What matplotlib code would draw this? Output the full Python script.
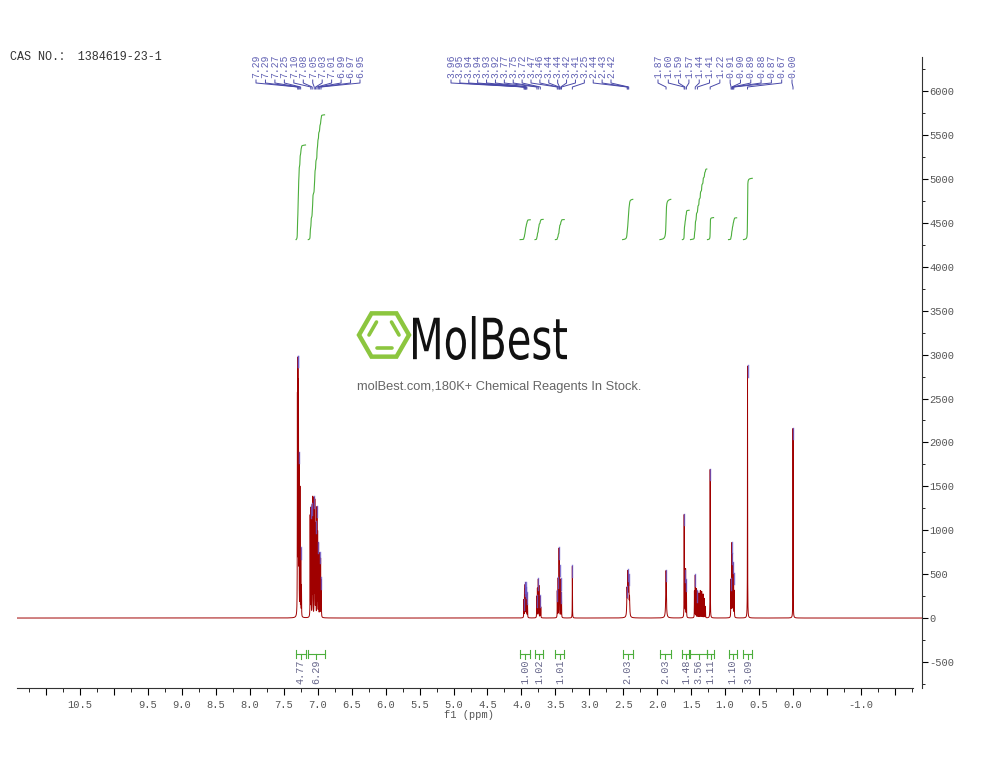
import numpy as np
import matplotlib
matplotlib.use("Agg")
import matplotlib.pyplot as plt
from matplotlib import transforms
from matplotlib.lines import Line2D
from matplotlib.patches import PathPatch, RegularPolygon
from matplotlib.textpath import TextPath
from matplotlib.font_manager import FontProperties
from matplotlib.ticker import MultipleLocator, FuncFormatter

plt.rcParams["font.family"] = ["Liberation Mono", "Noto Sans CJK SC"]
plt.rcParams["axes.unicode_minus"] = False

# 1H lines: position (ppm), height, line width (ppm)
LINE_PPM = [7.300, 7.292, 7.284, 7.276, 7.262, 7.250, 7.240,
            7.112, 7.100, 7.082, 7.073, 7.052, 7.043, 7.030, 7.012, 7.002,
            6.988, 6.972, 6.958, 6.948,
            3.965, 3.955, 3.947, 3.940, 3.930, 3.920, 3.910,
            3.775, 3.765, 3.752, 3.742, 3.725, 3.715,
            3.472, 3.460, 3.446, 3.438, 3.422, 3.410,
            3.250,
            2.445, 2.432, 2.420, 2.408,
            1.870,
            1.603, 1.592, 1.582, 1.570,
            1.452, 1.440, 1.425, 1.405, 1.385, 1.365, 1.345, 1.325, 1.305, 1.290,
            1.220,
            0.915, 0.905, 0.895, 0.885, 0.875, 0.865,
            0.670, 0.000]
LINE_H = [2450, 2790, 2550, 1750, 1450, 750, 350,
          1150, 1230, 1240, 1340, 1320, 1300, 1050, 1230, 950,
          830, 720, 660, 420,
          200, 310, 350, 375, 330, 270, 150,
          240, 330, 430, 360, 240, 120,
          300, 440, 770, 560, 430, 280,
          590,
          300, 470, 420, 200,
          540,
          1170, 500, 540, 420,
          300, 480, 330, 300, 280, 310, 300, 270, 220, 130,
          1700,
          420, 830, 700, 600, 480, 300,
          2870, 2160]
LINE_W = [0.003] * 40 + [0.008] * 4 + [0.010] + [0.003] * 23

# peak picks (shown as labels on top)
PICKS_A = [7.294, 7.288, 7.272, 7.252, 7.102, 7.082, 7.052, 7.032, 7.012,
           6.992, 6.972, 6.952]
PICKS_B = [3.962, 3.952, 3.944, 3.938, 3.930, 3.920, 3.772, 3.752, 3.722,
           3.472, 3.460, 3.444, 3.438, 3.422, 3.410, 3.250, 2.442, 2.432, 2.420]
PICKS_C = [1.870, 1.603, 1.592, 1.570, 1.440, 1.408, 1.220, 0.912, 0.902,
           0.892, 0.882, 0.872, 0.670, 0.000]

# integrals: region (ppm) and value
INT_HI = [7.32, 7.14, 4.02, 3.80, 3.50, 2.51, 1.96, 1.63, 1.51, 1.26, 0.95, 0.73]
INT_LO = [7.18, 6.90, 3.87, 3.68, 3.37, 2.36, 1.80, 1.53, 1.27, 1.17, 0.83, 0.60]
INT_VAL = [4.77, 6.29, 1.00, 1.02, 1.01, 2.03, 2.03, 1.48, 3.56, 1.11, 1.10, 3.09]

HIDDEN_TICKS = [11.0, 10.0, -0.5, -1.5]

W, H = 1000, 773
RED = "#a00000"
BLUE = "#4848a8"
GREEN = "#4cae3c"


def main():
    fig = plt.figure(figsize=(W / 100, H / 100), dpi=100)
    ax = fig.add_axes([17 / W, 1 - 688 / H, (922 - 17) / W, (688 - 57) / H])
    ax.patch.set_alpha(0)
    ax.set_xlim(11.43, -1.90)
    ax.set_ylim(-797, 6390)

    # figure pixel coords, y measured from the top
    fig_px = transforms.Affine2D().scale(1 / W, -1 / H).translate(0, 1) + fig.transFigure
    x_px = transforms.blended_transform_factory(ax.transData, fig_px)

    # spectrum
    ppm = np.linspace(11.43, -1.90, 60001)
    spec = np.zeros_like(ppm)
    for p, h, w in zip(LINE_PPM, LINE_H, LINE_W):
        spec += h / (1 + ((ppm - p) / (w / 2)) ** 2)
    ax.plot(ppm, spec, color=RED, lw=0.7, zorder=3)

    # integral curves
    for hi, lo, val in zip(INT_HI, INT_LO, INT_VAL):
        m = (ppm <= hi) & (ppm >= lo)
        cum = np.cumsum(spec[m])
        cum = cum / cum[-1] * val * 226 + 4310
        ax.plot(ppm[m], cum, color=GREEN, lw=0.8, zorder=2)

    # integral brackets + values
    for hi, lo, val in zip(INT_HI, INT_LO, INT_VAL):
        c = (hi + lo) / 2
        kw = dict(color=GREEN, lw=0.8, transform=x_px, clip_on=False)
        fig.add_artist(Line2D([hi, lo], [654, 654], **kw))
        fig.add_artist(Line2D([hi, hi], [650, 658], **kw))
        fig.add_artist(Line2D([lo, lo], [650, 658], **kw))
        fig.add_artist(Line2D([c, c], [654, 659], **kw))
        fig.text(c, 660, f"{val:.2f}", transform=x_px, rotation=90,
                 ha="center", va="top", fontsize=7.3, color="#66668a")

    # peak picks: marks, labels and connectors
    fig.canvas.draw()
    groups = [(PICKS_A, 256, 360), (PICKS_B, 451, 611), (PICKS_C, 658, 792)]
    for picks, x0, x1 in groups:
        lab_x = np.linspace(x0, x1, len(picks))
        for p, lx in zip(picks, lab_x):
            m = np.abs(ppm - p) < 0.005
            top = spec[m].max()
            ax.plot([p, p], [top - 120, top + 10], color="#6a5acd", lw=1.0,
                    alpha=0.8, zorder=4)
            px = ax.transData.transform((p, 0))[0]
            fig.add_artist(Line2D([lx, lx, px, px], [80, 83, 87, 89],
                                  color=BLUE, lw=0.7, transform=fig_px))
            fig.text(lx, 78, f"{p:.2f}", transform=fig_px, rotation=90,
                     ha="center", va="bottom", fontsize=7, color="#6262b4")

    # axes styling
    for s in ("top", "left"):
        ax.spines[s].set_visible(False)
    ax.spines["bottom"].set_bounds(11.43, -1.77)
    for s in ("bottom", "right"):
        ax.spines[s].set_color("#333333")
        ax.spines[s].set_linewidth(0.8)
    ax.yaxis.tick_right()
    ax.yaxis.set_major_locator(MultipleLocator(500))
    ax.yaxis.set_minor_locator(MultipleLocator(250))
    ax.xaxis.set_major_locator(MultipleLocator(0.5))
    ax.xaxis.set_minor_locator(MultipleLocator(0.25))

    def xfmt(v, pos):
        if any(abs(v - t) < 1e-6 for t in HIDDEN_TICKS):
            return ""
        return f"{v:.1f}"

    ax.xaxis.set_major_formatter(FuncFormatter(xfmt))
    ax.tick_params(axis="x", which="major", direction="out", length=5,
                   width=0.8, labelsize=7.5, labelcolor="#555555", pad=4)
    ax.tick_params(axis="x", which="minor", direction="out", length=3, width=0.6)
    ax.tick_params(axis="y", which="major", direction="out", length=4,
                   width=0.8, labelsize=7.5, labelcolor="#555555", pad=1)
    ax.tick_params(axis="y", which="minor", direction="out", length=2, width=0.6)
    ax.set_xlabel("f1 (ppm)", fontsize=7.5, color="#555555", labelpad=0)

    fig.text(10, 57, "CAS NO.\uff1a 1384619-23-1", transform=fig_px,
             ha="left", va="center", fontsize=8.5, color="#333333")

    # watermark logo
    fig.add_artist(RegularPolygon((384, 335), 6, radius=25, orientation=np.pi / 6,
                                  fill=False, ec="#8cc63f", lw=3.2, transform=fig_px))
    ang = np.deg2rad(np.arange(0, 360, 60))
    ix = 384 + 15 * np.cos(ang)
    iy = 335 + 15 * np.sin(ang)
    for i in (1, 3, 5):
        j = (i + 1) % 6
        fig.add_artist(Line2D([ix[i], ix[j]], [iy[i], iy[j]], color="#8cc63f",
                              lw=2.6, transform=fig_px, solid_capstyle="round"))
    tp = TextPath((0, 0), "MolBest", size=100, prop=FontProperties(family="DejaVu Sans"))
    bb = tp.get_extents()
    t = (transforms.Affine2D().translate(-bb.x0, -bb.y0)
         .scale(154 / bb.width, -44 / bb.height).translate(413, 360) + fig_px)
    fig.add_artist(PathPatch(tp, transform=t, fc="#111111", ec="none"))
    fig.text(499, 387, "molBest.com,180K+ Chemical Reagents In Stock.", transform=fig_px,
             ha="center", va="center", fontsize=9.3, color="#666666",
             family=["Liberation Sans", "DejaVu Sans"])

    fig.savefig("out.png", dpi=100)


if __name__ == "__main__":
    main()
